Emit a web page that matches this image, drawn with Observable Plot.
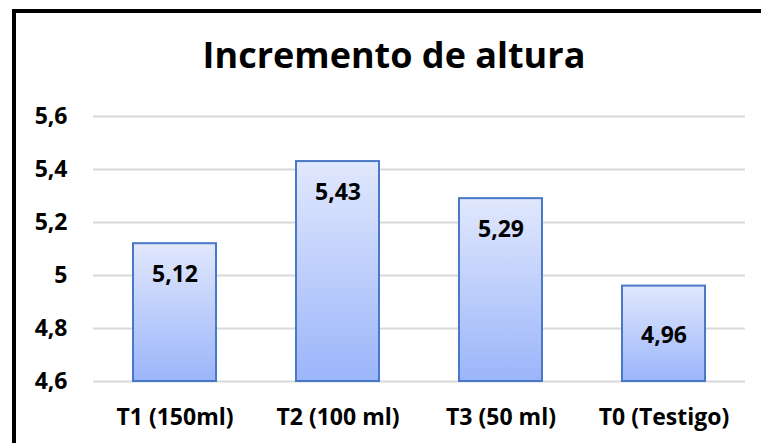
<!DOCTYPE html>
<html>
<head>
<meta charset="utf-8">
<script src="https://cdn.jsdelivr.net/npm/d3@7"></script>
<script src="https://cdn.jsdelivr.net/npm/@observablehq/plot@0.6"></script>
<style>
  html, body { margin: 0; padding: 0; background: #fff; }
  #wrap { position: relative; width: 761px; height: 443px; overflow: hidden; background: #fff; }
  #frame { position: absolute; left: 12px; top: 9px; width: 800px; height: 500px; border: 4px solid #000; box-sizing: border-box; }
  #title { position: absolute; left: 16px; width: 756px; top: 37px; text-align: center; font-family: "Open Sans", Lato, sans-serif; font-weight: bold; font-size: 36px; line-height: 1; color: #000; white-space: nowrap; }
  #chart { position: absolute; left: 0; top: 0; }
</style>
</head>
<body>
<div id="wrap">
  <div id="frame"></div>
  <div id="chart"></div>
  <div id="title">Incremento de altura</div>
</div>
<script>
const categories = ["T1 (150ml)", "T2 (100 ml)", "T3 (50 ml)", "T0 (Testigo)"];
const values = [5.12, 5.43, 5.29, 4.96];
const yTicks = [4.6, 4.8, 5, 5.2, 5.4, 5.6];

const data = categories.map((c, i) => ({cat: c, value: values[i]}));
const fmt = d => String(d).replace(".", ",");
const base = yTicks[0];

const svg = Plot.plot({
  width: 761,
  height: 443,
  marginLeft: 93,
  marginRight: 16,
  marginTop: 116,
  marginBottom: 62,
  style: {fontFamily: "'Open Sans', Lato, sans-serif", fontWeight: "bold", fontSize: "23px", color: "#000", background: "transparent"},
  x: {domain: categories, paddingInner: 0.49, paddingOuter: 0.245, label: null, tickSize: 0, tickPadding: 27},
  y: {domain: [yTicks[0], yTicks[yTicks.length - 1]], ticks: yTicks, tickFormat: fmt, label: null, tickSize: 0, tickPadding: 26},
  marks: [
    Plot.ruleY(yTicks, {stroke: "#d9d9d9", strokeWidth: 2}),
    Plot.barY(data, {x: "cat", y1: base, y2: "value", fill: "url(#barGrad)", stroke: "#4a78c8", strokeWidth: 2}),
    Plot.text(data.filter(d => d.cat !== "T0 (Testigo)"), {x: "cat", y: "value", text: d => fmt(d.value), dy: 31, fontSize: 23, fontWeight: "bold", fill: "#000"}),
    Plot.text(data.filter(d => d.cat === "T0 (Testigo)"), {x: "cat", y: "value", text: d => fmt(d.value), dy: 50, fontSize: 23, fontWeight: "bold", fill: "#000"})
  ]
});

const defs = d3.select(svg).insert("defs", ":first-child");
const grad = defs.append("linearGradient").attr("id", "barGrad").attr("x1", 0).attr("y1", 0).attr("x2", 0).attr("y2", 1);
grad.append("stop").attr("offset", "0%").attr("stop-color", "#e1e8fd");
grad.append("stop").attr("offset", "100%").attr("stop-color", "#9bb5fa");

document.getElementById("chart").appendChild(svg);
</script>
</body>
</html>
